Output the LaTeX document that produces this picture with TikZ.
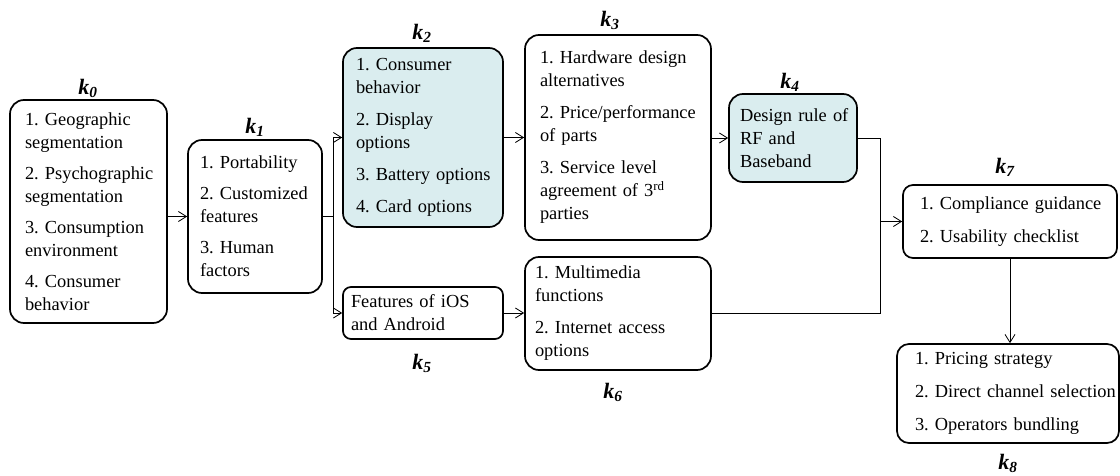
\documentclass[tikz,border=0pt]{standalone}
\usepackage{fontspec}
\setmainfont{Liberation Serif}
\usetikzlibrary{arrows.meta}
\definecolor{boxfill}{RGB}{218,237,239}
\newcommand\klab[1]{\textbf{\textit{k\textsubscript{#1}}}}
\hyphenpenalty=10000
\exhyphenpenalty=10000
\begin{document}
\begin{tikzpicture}[x=1pt,y=-1pt,
  kbox/.style={draw, line width=1.7pt, rounded corners=14pt, align=left,
    inner xsep=0pt, inner ysep=0pt, anchor=center,
    font={\fontsize{18.4}{23}\selectfont\hyphenpenalty=10000\exhyphenpenalty=10000\relax}},
  shaded/.style={fill=boxfill},
  klabel/.style={font=\fontsize{22}{26}\selectfont, inner sep=0pt},
  conn/.style={line width=0.8pt},
  arr/.style={conn, -{Straight Barb[length=8pt,width=10pt]}}]
\useasboundingbox (0,0) rectangle (1120,476);

% stage boxes
\node[kbox, minimum width=157pt, minimum height=223pt, text width=127pt] (k0) at (88.5,211.5)
  {1.~Geographic\\ segmentation\\[8pt] 2.~Psychographic\\ segmentation\\[8pt]
   3.~Consumption\\ environment\\[8pt] 4.~Consumer\\ behavior};
\node[kbox, minimum width=134pt, minimum height=153pt, text width=110pt] (k1) at (255,216.5)
  {1.~Portability\\[8pt] 2.~Customized\\ features\\[8pt] 3.~Human\\ factors};
\node[kbox, shaded, minimum width=160pt, minimum height=179pt, text width=134pt] (k2) at (423,137.5)
  {1.~Consumer\\ behavior\\[9pt] 2.~Display\\ options\\[9pt] 3.~Battery~options\\[9pt] 4.~Card~options};
\node[kbox, minimum width=186pt, minimum height=205pt, text width=156pt] (k3) at (618,137.5)
  {1.~Hardware~design\\ alternatives\\[9pt] 2.~Price/performance\\ of parts\\[9pt]
   3.~Service level\\ agreement of 3\textsuperscript{rd}\\ parties};
\node[kbox, shaded, minimum width=128pt, minimum height=88pt, text width=106pt] (k4) at (793,138)
  {Design~rule~of\\ RF and\\ Baseband};
\node[kbox, rounded corners=8pt, minimum width=160pt, minimum height=52pt, text width=144pt] (k5) at (423,313)
  {Features of iOS\\ and Android};
\node[kbox, minimum width=186pt, minimum height=113pt, text width=166pt] (k6) at (618,313.5)
  {1.~Multimedia\\ functions\\[9pt] 2.~Internet~access\\ options};
\node[kbox, rounded corners=10pt, minimum width=214pt, minimum height=73pt, text width=180pt] (k7) at (1010,221.5)
  {1.~Compliance~guidance\\[10pt] 2.~Usability~checklist};
\node[kbox, rounded corners=12pt, minimum width=222pt, minimum height=99pt, text width=186pt] (k8) at (1008,393.5)
  {1.~Pricing~strategy\\[10pt] 2.~Direct~channel~selection\\[10pt] 3.~Operators~bundling};

% stage labels
\node[klabel] (l0) at (88,88)   {\klab{0}};
\node[klabel] (l1) at (255,127) {\klab{1}};
\node[klabel] (l2) at (422,33)  {\klab{2}};
\node[klabel] (l3) at (610,20)  {\klab{3}};
\node[klabel] (l4) at (790,82)  {\klab{4}};
\node[klabel] (l5) at (422,363) {\klab{5}};
\node[klabel] (l6) at (613,392) {\klab{6}};
\node[klabel] (l7) at (1005,167){\klab{7}};
\node[klabel] (l8) at (1008,463){\klab{8}};

% junction points
\coordinate (split) at (333,216.5);
\coordinate (merge) at (880,221.5);

% connectors
\draw[arr] (k0.east |- k1.west) -- (k1.west);
\draw[conn] (k1.east) -- (split);
\draw[arr] (split) |- (k2.west);
\draw[arr] (split) |- (k5.west);
\draw[arr] (k2.east) -- (k3.west |- k2.east);
\draw[arr] (k3.east |- k4.west) -- (k4.west);
\draw[arr] (k5.east) -- (k6.west |- k5.east);
\draw[conn] (k4.east) -| (merge |- k6.east) -- (k6.east);
\draw[arr] (merge) -- (k7.west);
\draw[arr] (k7.south) -- (k7.south |- k8.north);
\end{tikzpicture}
\end{document}
